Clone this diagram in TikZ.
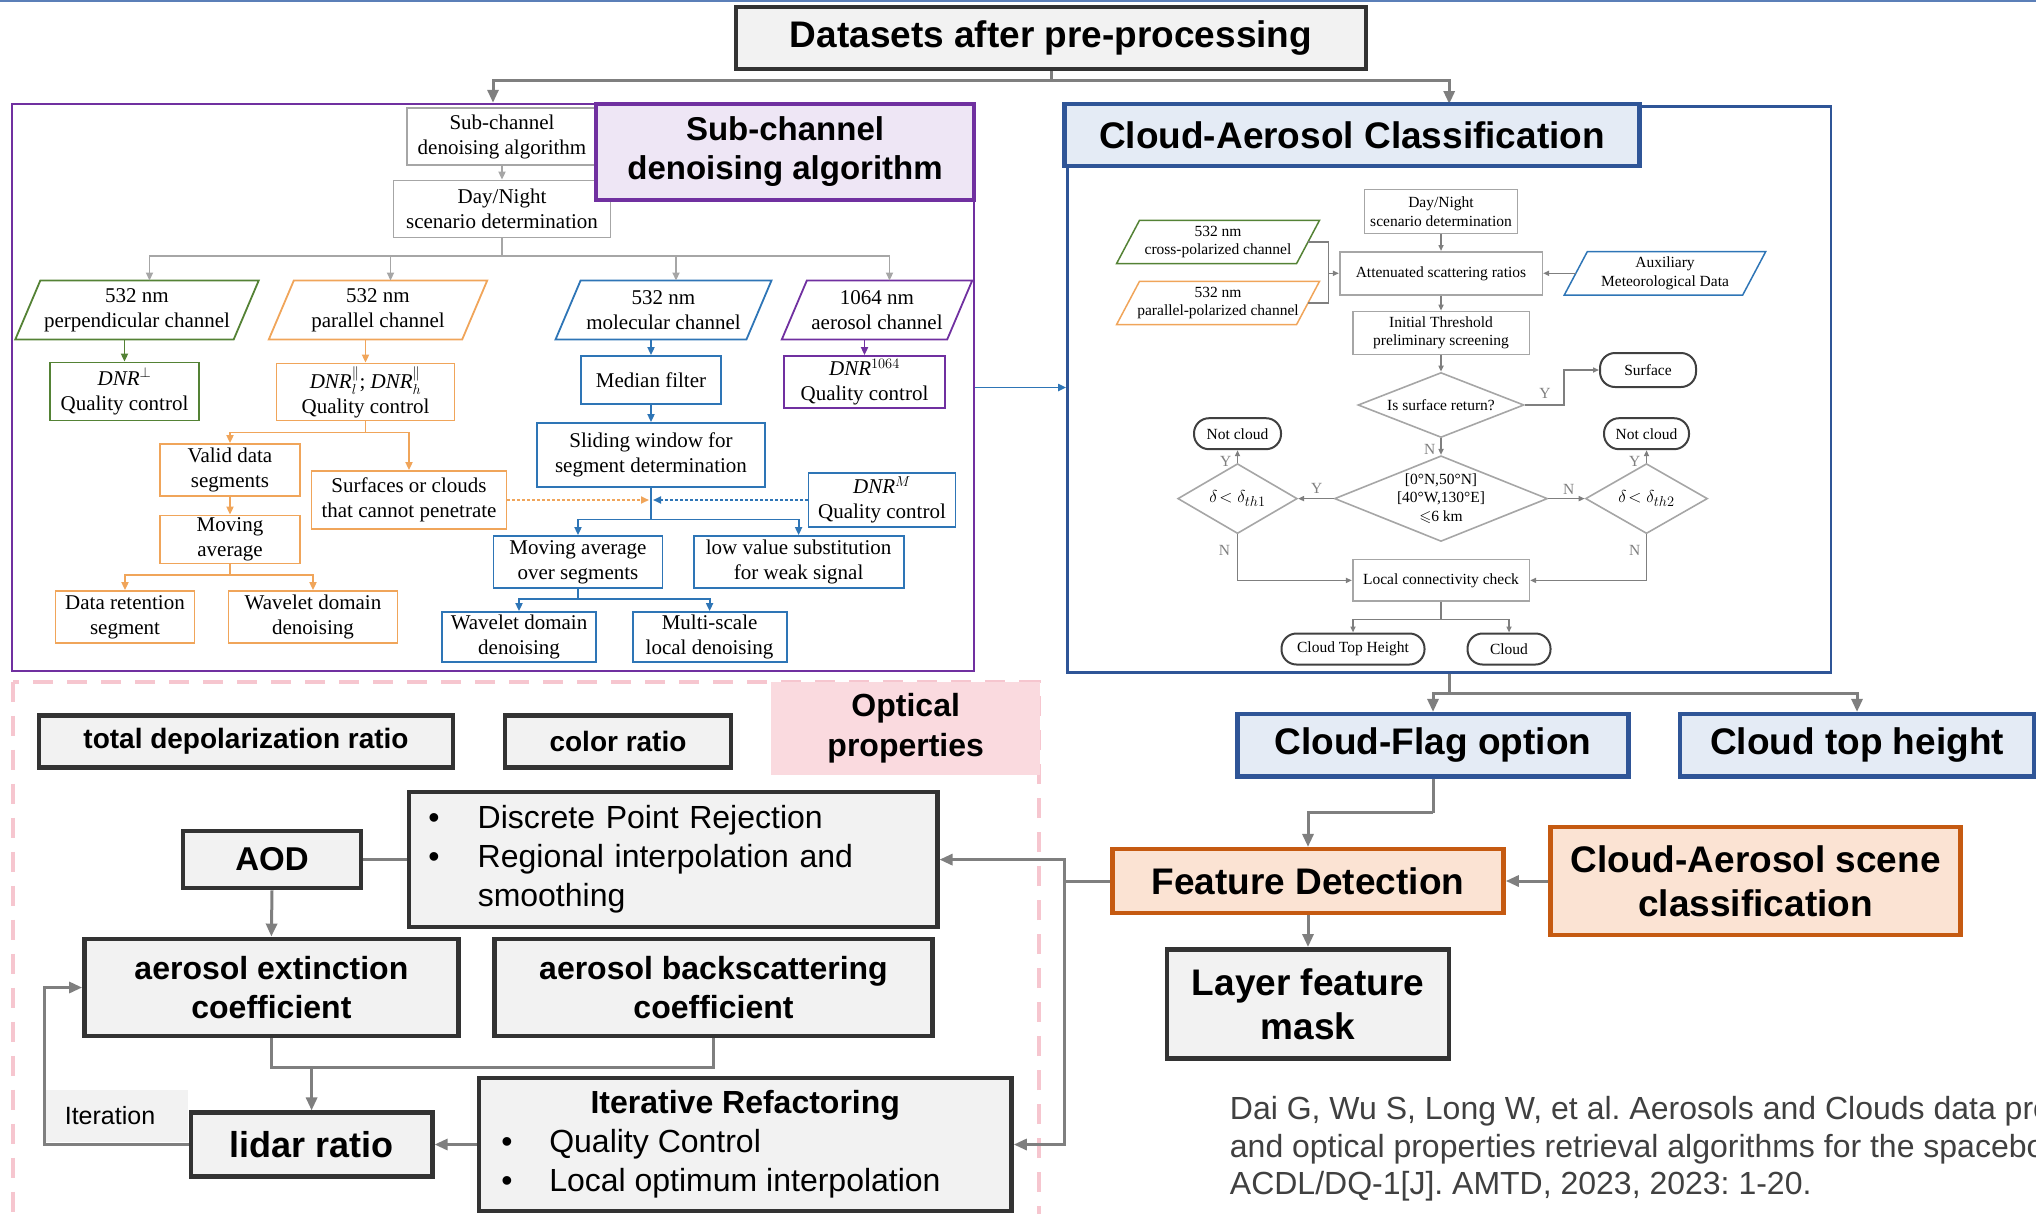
\documentclass[tikz,border=0pt]{standalone}
\usepackage{fontspec}
\usepackage{amssymb}
\setmainfont{Liberation Serif}
\newfontfamily\arialf{Liberation Sans}
\usetikzlibrary{arrows.meta,shapes.geometric,calc}
\frenchspacing
\definecolor{cgray}{HTML}{7F7F7F}
\definecolor{lgray}{HTML}{A6A6A6}
\definecolor{rgray}{HTML}{404040}
\definecolor{boxb}{HTML}{333333}
\definecolor{boxf}{HTML}{F2F2F2}
\definecolor{cpurple}{HTML}{7030A0}
\definecolor{purplef}{HTML}{EEE6F5}
\definecolor{cblue}{HTML}{2F5597}
\definecolor{bluef}{HTML}{E4EBF5}
\definecolor{corange}{HTML}{C55A11}
\definecolor{orangef}{HTML}{FBE3D3}
\definecolor{cpink}{HTML}{F6C6CF}
\definecolor{pinkf}{HTML}{FADADF}
\definecolor{igreen}{HTML}{548235}
\definecolor{iorange}{HTML}{F0A55A}
\definecolor{iblue}{HTML}{2E75B6}
\definecolor{ipurple}{HTML}{7030A0}
\definecolor{txtgray}{HTML}{404040}
\definecolor{topblue}{HTML}{5B7FB8}
\newcommand{\drawpara}[3]{\draw[line width=1.8pt,#2] ([xshift=#3]#1.north west) -- (#1.north east) -- ([xshift=-#3]#1.south east) -- (#1.south west) -- cycle;}
\begin{document}
\begin{tikzpicture}[x=1pt,y=-1pt,
 sz/.style 2 args={minimum width=#1,minimum height=#2},
 gbox/.style={draw=boxb,fill=boxf,line width=4.5pt,inner sep=0pt,align=center,font=\arialf\bfseries\fontsize{37}{44}\selectfont},
 bbox/.style={gbox,draw=cblue,fill=bluef},
 obox/.style={gbox,draw=corange,fill=orangef},
 mline/.style={draw=cgray,line width=3pt},
 marrow/.style={mline,-{Triangle[length=13pt,width=11pt]}},
 sbox/.style={draw=#1,line width=1.8pt,inner sep=0pt,align=center,fill=white,font=\fontsize{21}{25}\selectfont},
 ptext/.style={inner sep=0pt,align=center,font=\fontsize{21}{25}\selectfont},
 iline/.style={draw=#1,line width=1.8pt},
 iarrow/.style={draw=#1,line width=1.8pt,-{Triangle[length=8pt,width=7pt]}},
 cbox/.style={draw=lgray,line width=1.6pt,inner sep=0pt,align=center,fill=white,font=\fontsize{15.5}{18.5}\selectfont},
 rbox/.style={cbox,draw=rgray,rounded corners=15pt,line width=2pt},
 dia/.style={draw=lgray,line width=1.6pt,shape=diamond,inner sep=0pt},
 ctext/.style={inner sep=0pt,align=center,font=\fontsize{15.5}{18.5}\selectfont},
 cline/.style={draw=cgray,line width=1.5pt},
 carrow/.style={cline,-{Triangle[length=6pt,width=5pt]}},
 yn/.style={inner sep=0pt,text=cgray,font=\fontsize{15.5}{18}\selectfont},
]
\path[use as bounding box] (0,0) rectangle (2036,1213);
\begin{scope}
\clip (0,0) rectangle (2036,1213);
\draw[topblue,line width=2pt] (0,1) -- (2036,1);

% ---------- top ----------
\node[gbox,sz={630pt}{62pt}] (ds) at (1051,38) {Datasets after pre-processing};
\node[draw=cpurple,line width=2.5pt,inner sep=0pt,sz={962pt}{567pt}] (sub) at (493,387.5) {};
\node[draw=cblue,line width=2.5pt,inner sep=0pt,sz={763.6pt}{566pt}] (cls) at (1449.2,389.5) {};
\coordinate (j0) at (1051,80.5);
\draw[mline] (ds.south) -- (j0);
\draw[marrow] (j0) -| (sub.north);

% ---------- sub-channel flowchart ----------
\node[sbox=lgray,sz={190pt}{57pt}] (sc) at (502,136.5) {Sub-channel\\denoising algorithm};
\node[sbox=lgray,sz={217pt}{57pt}] (dn) at (502,209) {Day/Night\\scenario determination};
\node[ptext,sz={243pt}{58.5pt}] (g1) at (137,310) {532 nm\\perpendicular channel};
\node[ptext,sz={218pt}{58.5pt}] (o1) at (378,310) {532 nm\\parallel channel};
\node[ptext,sz={215.5pt}{58.5pt}] (b1) at (663.5,310) {532 nm\\molecular channel};
\node[ptext,sz={190pt}{58.5pt}] (p1) at (877,310) {1064 nm\\aerosol channel};
\drawpara{g1}{igreen}{25pt}
\drawpara{o1}{iorange}{25pt}
\drawpara{b1}{iblue}{25pt}
\drawpara{p1}{ipurple}{25pt}
\node[sbox=igreen,sz={149pt}{58pt}] (g2) at (124.5,391.5) {\textit{DNR}$^{\perp}$\\Quality control};
\node[sbox=iorange,sz={178pt}{57pt}] (o2) at (365.5,392) {\textit{DNR}$^{\parallel}_{l}$; \textit{DNR}$^{\parallel}_{h}$\\Quality control};
\node[sbox=iblue,sz={140pt}{48pt}] (b2) at (651,380) {Median filter};
\node[sbox=ipurple,sz={161pt}{52pt}] (p2) at (864.5,382) {\textit{DNR}$^{1064}$\\Quality control};
\node[sbox=iblue,sz={228pt}{64pt}] (b3) at (651,455) {Sliding window for\\segment determination};
\node[sbox=iorange,sz={140pt}{52pt}] (o3) at (230,470) {Valid data\\segments};
\node[sbox=iorange,sz={195pt}{58pt}] (o4) at (409,500) {Surfaces or clouds\\that cannot penetrate};
\node[sbox=iblue,sz={147pt}{54pt}] (b4) at (882,500) {\textit{DNR}$^{M}$\\Quality control};
\node[sbox=iorange,sz={140pt}{48pt}] (o5) at (230,539.5) {Moving\\average};
\node[sbox=iorange,sz={139pt}{52pt}] (o6) at (125,617) {Data retention\\segment};
\node[sbox=iorange,sz={169pt}{52pt}] (o7) at (313,617) {Wavelet domain\\denoising};
\node[sbox=iblue,sz={169pt}{52pt}] (b5) at (578,562) {Moving average\\over segments};
\node[sbox=iblue,sz={210pt}{52pt}] (b6) at (798.6,562) {low value substitution\\for weak signal};
\node[sbox=iblue,sz={154pt}{50pt}] (b7) at (519,637) {Wavelet domain\\denoising};
\node[sbox=iblue,sz={154pt}{50pt}] (b8) at (709.6,637) {Multi-scale\\local denoising};

\coordinate (j1) at (502,255.8);
\coordinate (j2) at (365.5,432.4);
\coordinate (j3) at (651,519.4);
\coordinate (jm) at (651,500);
\coordinate (j4) at (230,575);
\coordinate (j5) at (578,598.6);
\draw[iarrow=lgray] (sc.south) -- (dn.north);
\draw[iline=lgray] (dn.south) -- (j1);
\draw[iarrow=lgray] (j1) -| ([xshift=12.5pt]g1.north);
\draw[iarrow=lgray] (j1) -| ([xshift=12.5pt]o1.north);
\draw[iarrow=lgray] (j1) -| ([xshift=12.5pt]b1.north);
\draw[iarrow=lgray] (j1) -| ([xshift=12.5pt]p1.north);
\draw[iarrow=igreen] ([xshift=-12.5pt]g1.south) -- (g2.north);
\draw[iarrow=iorange] ([xshift=-12.5pt]o1.south) -- (o2.north);
\draw[iarrow=iblue] ([xshift=-12.5pt]b1.south) -- (b2.north);
\draw[iarrow=ipurple] ([xshift=-12.5pt]p1.south) -- (p2.north);
\draw[iarrow=iblue] (b2.south) -- (b3.north);
\draw[iline=iorange] (o2.south) -- (j2);
\draw[iarrow=iorange] (j2) -| (o3.north);
\draw[iarrow=iorange] (j2) -| (o4.north);
\draw[iarrow=iorange] (o3.south) -- (o5.north);
\draw[iline=iorange] (o5.south) -- (j4);
\draw[iarrow=iorange] (j4) -| (o6.north);
\draw[iarrow=iorange] (j4) -| (o7.north);
\draw[iarrow=iorange,dash pattern=on 2.5pt off 2.5pt] (o4.east) -- ([xshift=-2pt]jm);
\draw[iarrow=iblue,dash pattern=on 2.5pt off 2.5pt] (b4.west) -- ([xshift=2pt]jm);
\draw[iline=iblue] (b3.south) -- (j3);
\draw[iarrow=iblue] (j3) -| (b5.north);
\draw[iarrow=iblue] (j3) -| (b6.north);
\draw[iline=iblue] (b5.south) -- (j5);
\draw[iarrow=iblue] (j5) -| (b7.north);
\draw[iarrow=iblue] (j5) -| (b8.north);

\node[gbox,draw=cpurple,fill=purplef,sz={378pt}{96pt},font=\arialf\bfseries\fontsize{33}{39}\selectfont] (scl) at (785,152) {Sub-channel\\denoising algorithm};

\draw[iarrow=iblue] (sub.east) -- (sub.east -| cls.west);

% ---------- cloud-aerosol classification ----------
\draw[marrow] (j0) -| (cls.north |- 0,104);
\node[bbox,sz={575pt}{62pt}] (cac) at (1352,135) {Cloud-Aerosol Classification};

\node[cbox,sz={153pt}{44pt}] (c1) at (1441,211.6) {Day/Night\\scenario determination};
\node[cbox,sz={202.6pt}{43pt}] (c2) at (1441,273.3) {Attenuated scattering ratios};
\node[ctext,sz={202.6pt}{43pt}] (cg) at (1218,242) {532 nm\\cross-polarized channel};
\node[ctext,sz={202.6pt}{43pt}] (co) at (1218,303) {532 nm\\parallel-polarized channel};
\node[ctext,sz={201pt}{43pt}] (ca) at (1665,273.3) {Auxiliary\\Meteorological Data};
\drawpara{cg}{igreen,line width=1.5pt}{23pt}
\drawpara{co}{iorange,line width=1.5pt}{23pt}
\drawpara{ca}{iblue,line width=1.5pt}{23pt}
\node[cbox,sz={176.6pt}{43pt}] (c3) at (1441,333) {Initial Threshold\\preliminary screening};
\node[dia,sz={166pt}{65pt}] (d1) at (1441,405) {};
\node[ctext] at (d1) {Is surface return?};
\node[rbox,sz={96pt}{34pt}] (surf) at (1648,370) {Surface};
\node[dia,sz={213pt}{85.7pt}] (d2) at (1441,498.6) {};
\node[ctext] at (d2) {{[0°N,50°N]}\\{[40°W,130°E]}\\$\leqslant$6 km};
\node[dia,sz={119.5pt}{70pt}] (d3) at (1237.5,498.6) {};
\node[ctext,font=\fontsize{19}{22}\selectfont] at (d3) {$\delta\!<\delta_{th1}$};
\node[dia,sz={122pt}{70pt}] (d4) at (1646.5,498.6) {};
\node[ctext,font=\fontsize{19}{22}\selectfont] at (d4) {$\delta\!<\delta_{th2}$};
\node[rbox,sz={87pt}{31pt}] (nc1) at (1237.5,433.7) {Not cloud};
\node[rbox,sz={85pt}{31pt}] (nc2) at (1646.5,433.7) {Not cloud};
\node[cbox,sz={176.6pt}{41.5pt}] (c4) at (1441,580.4) {Local connectivity check};
\node[rbox,sz={143pt}{31pt}] (cth) at (1353,649) {Cloud Top Height};
\node[rbox,sz={83pt}{31pt}] (cl) at (1509,649) {Cloud};

\coordinate (br) at (1328.4,273.3);
\coordinate (j6) at (1441,619.4);
\draw[carrow] (c1.south) -- (c2.north);
\draw[cline] ([xshift=-11.5pt]cg.east) -| (br |- co.east) -- ([xshift=-11.5pt]co.east);
\draw[carrow] (br) -- (c2.west);
\draw[carrow] ([xshift=11.5pt]ca.west) -- (c2.east);
\draw[carrow] (c2.south) -- (c3.north);
\draw[carrow] (c3.south) -- (d1.north);
\draw[carrow] (d1.east) -- ++(39.4,0) |- (surf.west);
\draw[carrow] (d1.south) -- (d2.north);
\draw[carrow] (d2.west) -- (d3.east);
\draw[carrow] (d2.east) -- (d4.west);
\draw[carrow] (d3.north) -- (nc1.south);
\draw[carrow] (d4.north) -- (nc2.south);
\draw[carrow] (d3.south) |- (c4.west);
\draw[carrow] (d4.south) |- (c4.east);
\draw[cline] (c4.south) -- (j6);
\draw[carrow] (j6) -| (cth.north);
\draw[carrow] (j6) -| (cl.north);
\node[yn] at (1545,393) {Y};
\node[yn] at (1429.6,449) {N};
\node[yn] at (1316.7,488) {Y};
\node[yn] at (1568.6,489.5) {N};
\node[yn] at (1225.8,461) {Y};
\node[yn] at (1634.8,461) {Y};
\node[yn] at (1224.5,550.6) {N};
\node[yn] at (1634.8,550.6) {N};

% ---------- right lower ----------
\node[bbox,sz={390.8pt}{62.3pt}] (cfo) at (1433,745.3) {Cloud-Flag option};
\node[bbox,sz={354pt}{62.3pt}] (cth2) at (1857,745.3) {Cloud top height};
\node[obox,sz={391pt}{63.6pt}] (fd) at (1308,881) {Feature Detection};
\node[obox,sz={410pt}{107.8pt}] (scn) at (1755.6,881) {Cloud-Aerosol scene\\classification};
\node[gbox,sz={281.7pt}{109pt}] (lfm) at (1308,1003.8) {Layer feature\\mask};
\coordinate (j7) at (1449.2,693.4);
\coordinate (j8) at (1433,812.9);
\coordinate (j9) at (1064.8,881);
\draw[mline] (cls.south) -- (j7);
\draw[marrow] (j7) -| (cfo.north);
\draw[marrow] (j7) -| (cth2.north);
\draw[mline] (cfo.south) -- (j8);
\draw[marrow] (j8) -| (fd.north);
\draw[marrow] (scn.west) -- (fd.east);
\draw[marrow] (fd.south) -- (lfm.north);

% ---------- optical properties ----------
\draw[cpink,line width=4pt,dash pattern=on 20pt off 14pt] (13,681.7) rectangle (1038.8,1240);
\node[fill=pinkf,inner sep=0pt,sz={268.7pt}{93.5pt},align=center,font=\arialf\bfseries\fontsize{32}{40}\selectfont] (opt) at (905.7,728.5) {Optical\\properties};
\node[gbox,sz={414pt}{52pt},font=\arialf\bfseries\fontsize{28}{34}\selectfont] (tdr) at (246,741.5) {total depolarization ratio};
\node[gbox,sz={226pt}{52pt},font=\arialf\bfseries\fontsize{28}{34}\selectfont] (cr) at (618,741.5) {color ratio};
\node[gbox,sz={178pt}{57pt},font=\arialf\bfseries\fontsize{33}{40}\selectfont] (aod) at (272,859.6) {AOD};
\node[gbox,sz={528.5pt}{135pt},font=\arialf\fontsize{32}{39}\selectfont,align=left,text width=489.5pt,inner xsep=19.5pt] (dpr) at (673,859.6) {\makebox[49.5pt][l]{\textbullet}Discrete Point Rejection\\\makebox[49.5pt][l]{\textbullet}Regional interpolation and\\\hspace*{49.5pt}smoothing};
\node[gbox,sz={374pt}{97.4pt},font=\arialf\bfseries\fontsize{32}{39}\selectfont] (ext) at (271.4,987.5) {aerosol extinction\\coefficient};
\node[gbox,sz={437.6pt}{97.4pt},font=\arialf\bfseries\fontsize{32}{39}\selectfont] (bsc) at (713.5,987.5) {aerosol backscattering\\coefficient};
\node[gbox,sz={241.5pt}{63.6pt},font=\arialf\bfseries\fontsize{36}{42}\selectfont] (lr) at (311.6,1144.5) {lidar ratio};
\node[gbox,sz={532.4pt}{133pt},font=\arialf\fontsize{32}{39}\selectfont] (itr) at (745.3,1144.5) {\textbf{Iterative Refactoring}\\\makebox[488pt][l]{\makebox[48pt][l]{\textbullet}Quality Control}\\\makebox[488pt][l]{\makebox[48pt][l]{\textbullet}Local optimum interpolation}};
\node[fill=boxf,inner sep=0pt,sz={142pt}{52pt},font=\arialf\fontsize{25}{30}\selectfont] (itl) at (117,1116) {\hspace*{-14pt}Iteration};
\coordinate (j10) at (311.6,1067.4);
\coordinate (lpb) at (44,1144.5);
\draw[mline] (aod.east) -- (dpr.west);
\draw[marrow] (aod.south) -- (ext.north);
\draw[mline] (ext.south) |- (bsc.south |- j10) -- (bsc.south);
\draw[marrow] (j10) -- (lr.north);
\draw[marrow] (itr.west) -- (lr.east);
\draw[marrow] (lr.west) -- (lpb) |- (ext.west);
\draw[mline] (fd.west) -- (j9);
\draw[marrow] (j9) |- (dpr.east);
\draw[marrow] (j9) |- (itr.east);

% ---------- citation ----------
\node[anchor=west,align=left,inner sep=0pt,text=txtgray,font=\arialf\fontsize{32}{37.5}\selectfont] (cit) at (1229.7,1149) {Dai G, Wu S, Long W, et al. Aerosols and Clouds data processing\\and optical properties retrieval algorithms for the spaceborne\\ACDL/DQ-1[J]. AMTD, 2023, 2023: 1-20.};
\end{scope}
\end{tikzpicture}
\end{document}
